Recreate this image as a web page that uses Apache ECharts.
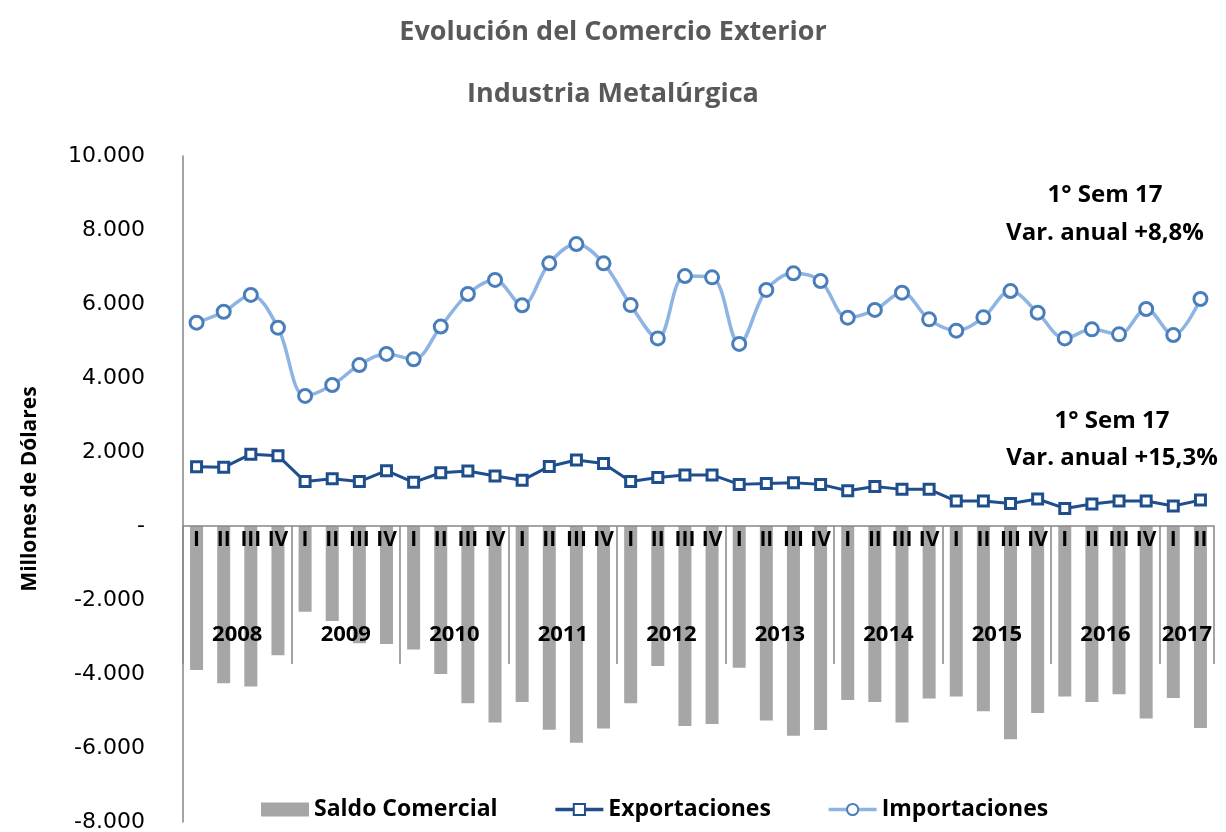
<!DOCTYPE html>
<html>
<head>
<meta charset="utf-8">
<script src="https://cdn.jsdelivr.net/npm/echarts@6/dist/echarts.min.js"></script>
<style>
html,body{margin:0;padding:0;background:#fff;}
#chart{width:1226px;height:832px;}
</style>
</head>
<body>
<div id="chart"></div>
<script>
const quarters = ['I','II','III','IV','I','II','III','IV','I','II','III','IV','I','II','III','IV','I','II','III','IV','I','II','III','IV','I','II','III','IV','I','II','III','IV','I','II','III','IV','I','II'];
const years = ['2008','2009','2010','2011','2012','2013','2014','2015','2016','2017'];
const yearCenters = [2,6,10,14,18,22,26,30,34,37];
const yearBounds = [0,4,8,12,16,20,24,28,32,36,38];

const importaciones = [5495,5790,6245,5360, 3515,3810,4350,4650, 4505,5390,6270,6650, 5965,7100,7620,7100, 5970,5070,6755,6720, 4920,6380,6830,6620, 5630,5840,6305,5585, 5280,5640,6350,5765, 5070,5315,5180,5865, 5160,6135];
const exportaciones = [1600,1585,1940,1900, 1200,1280,1200,1495, 1180,1440,1485,1350, 1235,1610,1785,1690, 1200,1310,1380,1380, 1125,1150,1170,1125, 955,1070,990,990, 675,675,610,730, 475,595,675,675, 540,700];
const saldo = [-3890,-4250,-4340,-3490, -2315,-2570,-3170,-3190, -3335,-4000,-4790,-5310, -4760,-5510,-5855,-5470, -4790,-3785,-5405,-5350, -3830,-5260,-5670,-5515, -4700,-4760,-5310,-4660, -4605,-5010,-5765,-5055, -4605,-4760,-4550,-5205, -4650,-5460];

const chart = echarts.init(document.getElementById('chart'));
const F = 'Open Sans';
const ZERO_OFFSET = -296; // distance from grid bottom (-8000) up to the zero line
chart.setOption({
  animation:false,
  title:[
    {text:'Evolución del Comercio Exterior', left:'center', top:14, textStyle:{fontFamily:F, fontWeight:'bold', fontSize:27, color:'#595959'}},
    {text:'Industria Metalúrgica', left:'center', top:76, textStyle:{fontFamily:F, fontWeight:'bold', fontSize:27, color:'#595959'}}
  ],
  grid:{left:183, right:12, top:156, bottom:10, containLabel:false, outerBoundsMode:'none'},
  legend:{
    left:256, bottom:6, itemWidth:48, itemHeight:14, itemGap:56,
    textStyle:{fontFamily:F, fontWeight:'bold', fontSize:23, color:'#000'},
    data:[{name:'Saldo Comercial', icon:'rect'},
          {name:'Exportaciones', lineStyle:{width:3.5}},
          {name:'Importaciones', lineStyle:{width:3.5}}]
  },
  xAxis:[
    {type:'category', data:quarters, boundaryGap:true, position:'bottom', offset:ZERO_OFFSET, z:10,
     axisLine:{onZero:false, lineStyle:{color:'#868686', width:1.5}},
     axisTick:{show:false},
     axisLabel:{interval:0, margin:4, fontFamily:F, fontWeight:'bold', fontSize:21, color:'#000'}},
    {type:'value', min:0, max:38, interval:1, position:'bottom', offset:ZERO_OFFSET, z:10,
     axisLine:{show:false, onZero:false},
     splitLine:{show:false},
     axisTick:{show:true, length:138, customValues:yearBounds, lineStyle:{color:'#868686', width:1.5}},
     axisLabel:{show:true, margin:98, customValues:yearCenters,
       formatter:function(v){const i=yearCenters.indexOf(v); return i>=0?years[i]:'';},
       fontFamily:F, fontWeight:'bold', fontSize:22, color:'#000'}}
  ],
  yAxis:{type:'value', min:-8000, max:10000, interval:2000,
    name:'Millones de Dólares', nameLocation:'middle', nameGap:142, nameRotate:90,
    nameTextStyle:{fontFamily:F, fontWeight:'bold', fontSize:21, color:'#000'},
    axisLine:{show:true, onZero:false, lineStyle:{color:'#868686', width:1.5}},
    axisTick:{show:false}, splitLine:{show:false},
    axisLabel:{margin:38, fontFamily:'DejaVu Sans', fontSize:22, color:'#000',
      formatter:function(v){ if(v===0) return '-'; const s=Math.abs(v).toString().replace(/\B(?=(\d{3})+(?!\d))/g,'.'); return (v<0?'-':'')+s; }}
  },
  series:[
    {name:'Saldo Comercial', type:'bar', data:saldo, barWidth:13, itemStyle:{color:'#A6A6A6'}},
    {name:'Exportaciones', type:'line', data:exportaciones, symbol:'rect', symbolSize:10,
     lineStyle:{color:'#1F4E8C', width:3}, itemStyle:{color:'#fff', borderColor:'#1F4E8C', borderWidth:3}, z:3},
    {name:'Importaciones', type:'line', data:importaciones, smooth:0.35, symbol:'circle', symbolSize:13,
     lineStyle:{color:'#8EB4E3', width:3.5}, itemStyle:{color:'#fff', borderColor:'#4A7EBB', borderWidth:3}, z:4}
  ],
  graphic:[
    {type:'text', style:{text:'1° Sem 17', x:1105, y:195, align:'center', verticalAlign:'middle', font:'bold 24px "Open Sans"', fill:'#000'}},
    {type:'text', style:{text:'Var. anual +8,8%', x:1105, y:233, align:'center', verticalAlign:'middle', font:'bold 24px "Open Sans"', fill:'#000'}},
    {type:'text', style:{text:'1° Sem 17', x:1112, y:421, align:'center', verticalAlign:'middle', font:'bold 24px "Open Sans"', fill:'#000'}},
    {type:'text', style:{text:'Var. anual +15,3%', x:1112, y:458, align:'center', verticalAlign:'middle', font:'bold 24px "Open Sans"', fill:'#000'}}
  ]
});
</script>
</body>
</html>
